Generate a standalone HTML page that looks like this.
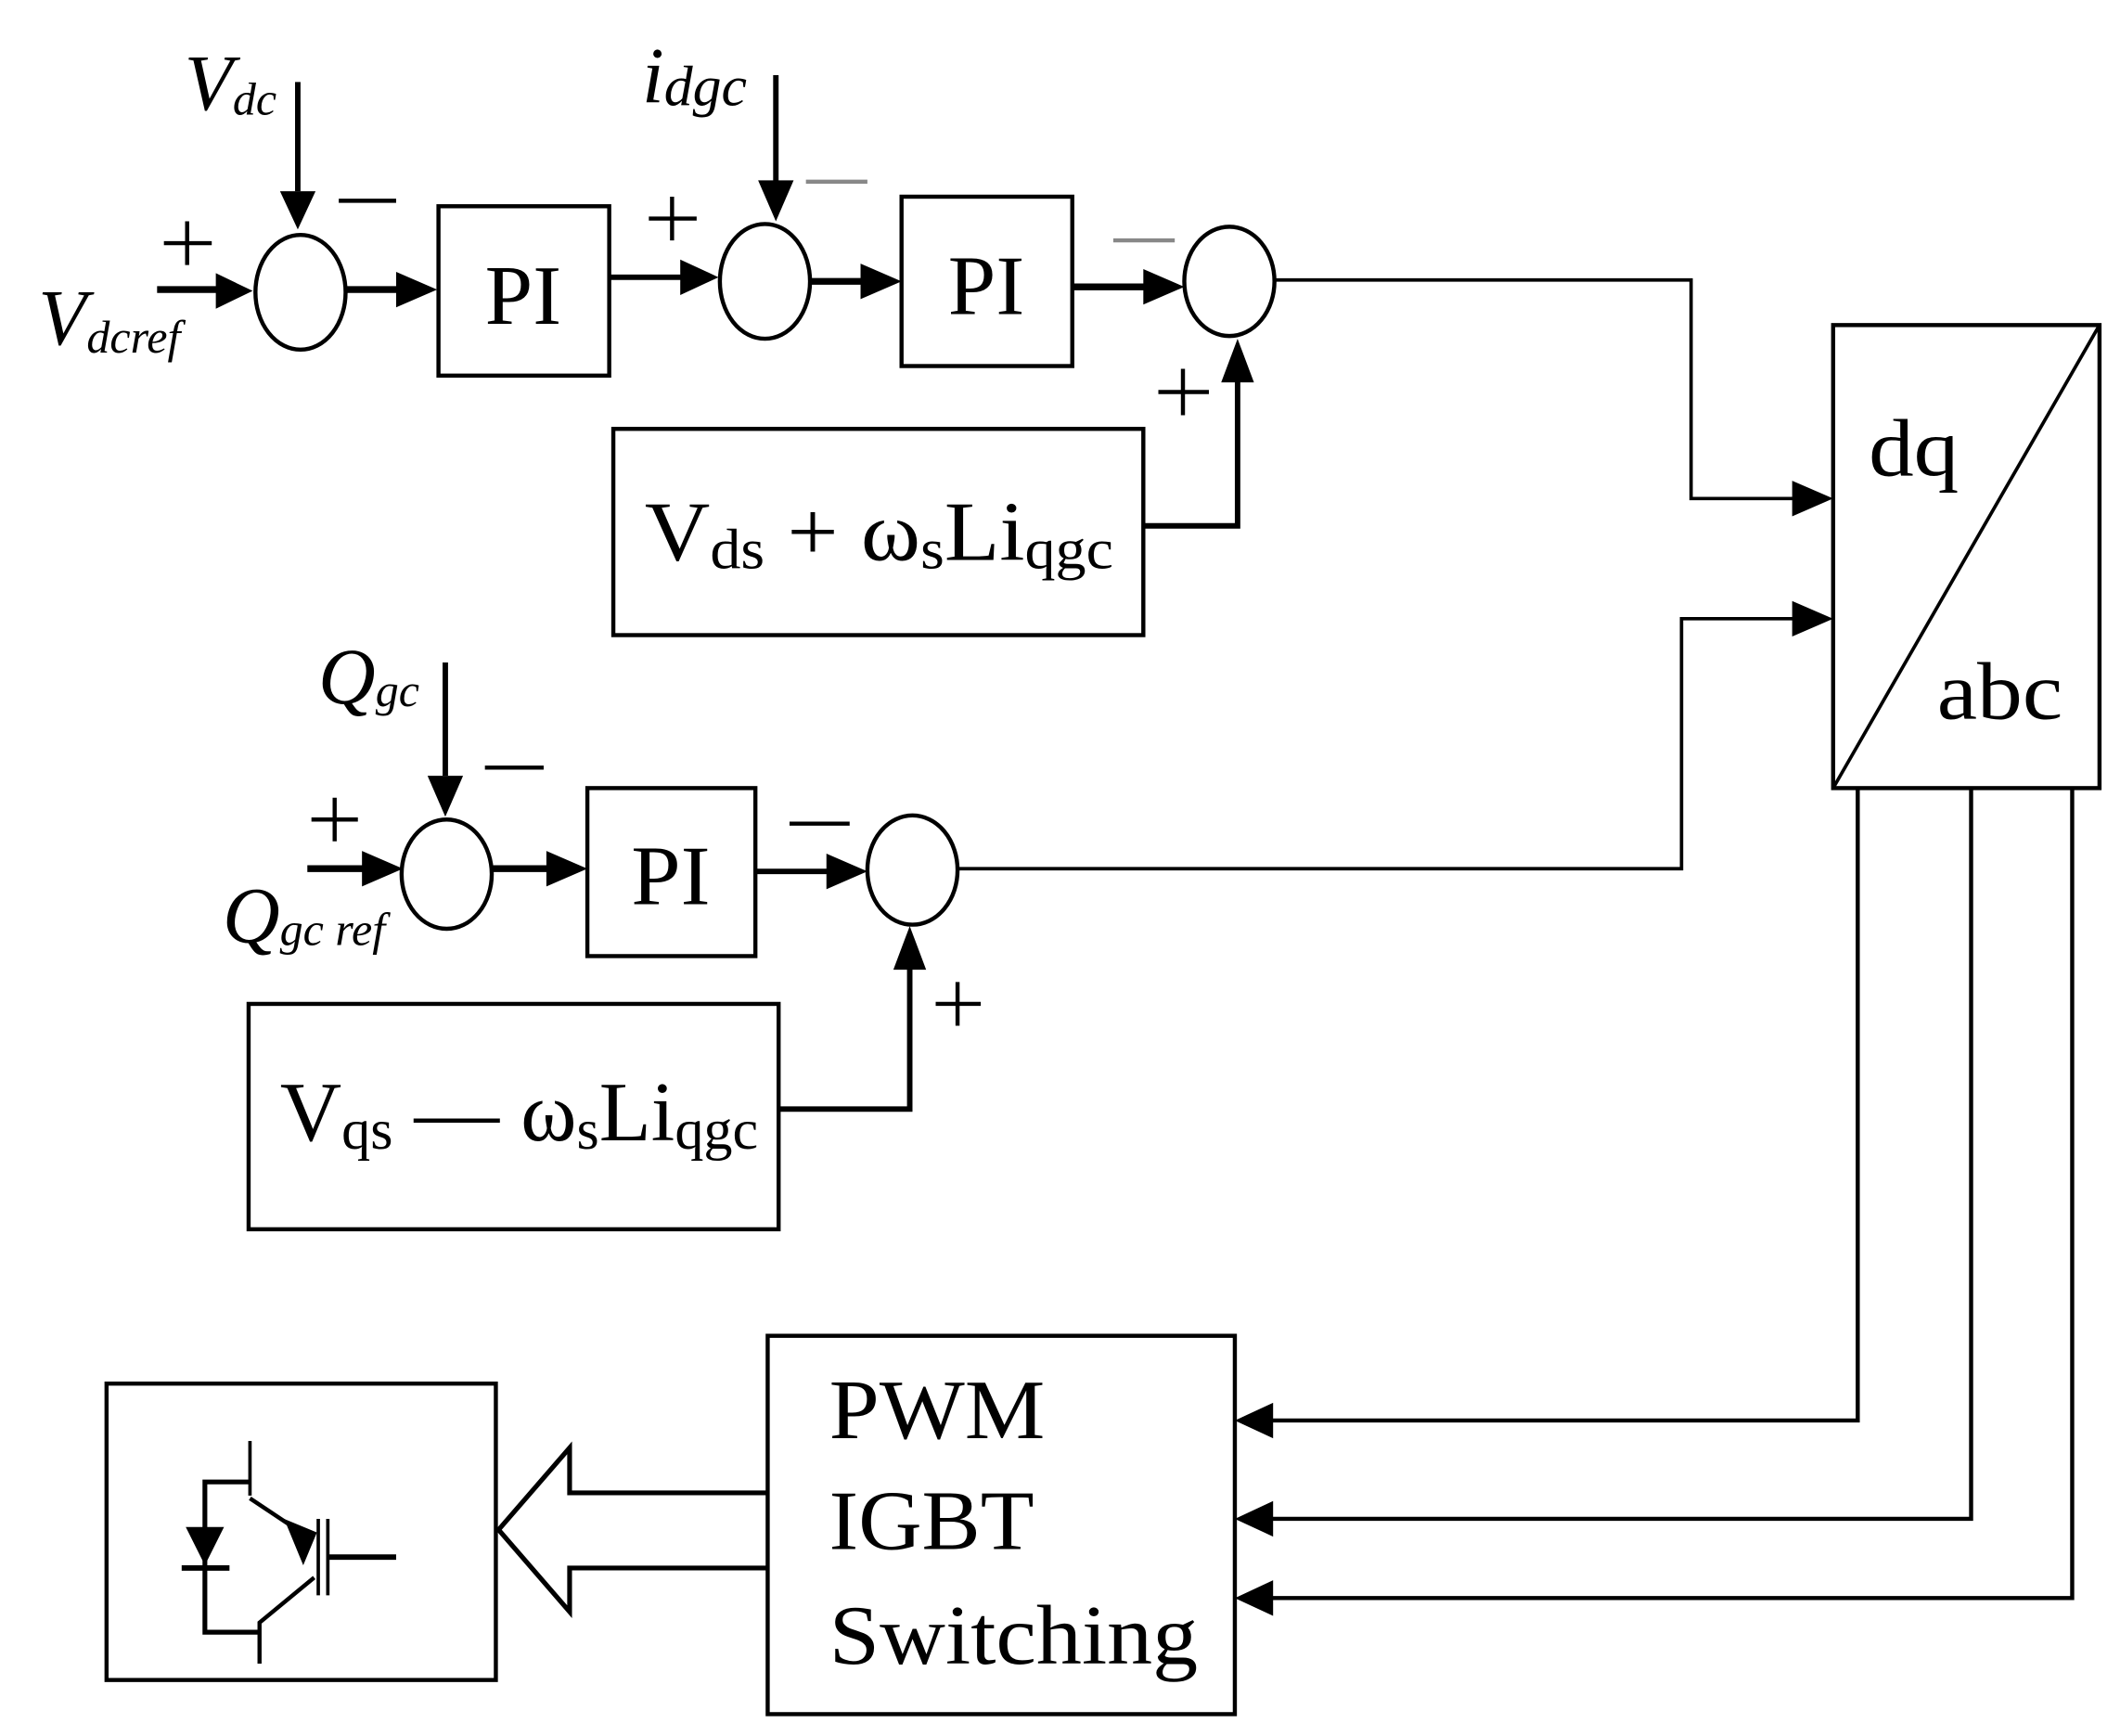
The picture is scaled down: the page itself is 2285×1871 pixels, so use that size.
<!DOCTYPE html>
<html><head><meta charset="utf-8"><style>
html,body{margin:0;padding:0;background:#fff;}
svg{display:block;}
text{font-family:"Liberation Serif",serif;fill:#000;}
</style></head><body>
<svg width="2285" height="1871" viewBox="0 0 1552 1271" preserveAspectRatio="none" xmlns="http://www.w3.org/2000/svg">
<g stroke="#000" fill="none" stroke-width="3">
<ellipse cx="220" cy="214" rx="33" ry="42"/>
<ellipse cx="560" cy="206" rx="33" ry="42"/>
<ellipse cx="900" cy="206" rx="33" ry="40"/>
<ellipse cx="327" cy="640" rx="33" ry="40"/>
<ellipse cx="668" cy="637" rx="33" ry="40"/>
<rect x="321" y="151" width="125" height="124"/>
<rect x="660" y="144" width="125" height="124"/>
<rect x="449" y="314" width="388" height="151"/>
<rect x="430" y="577" width="123" height="123"/>
<rect x="182" y="735" width="388" height="165"/>
<rect x="1342" y="238" width="195" height="339"/>
<line x1="1342" y1="577" x2="1537" y2="238" stroke-width="2.5"/>
<rect x="562" y="978" width="342" height="277"/>
<rect x="78" y="1013" width="285" height="217"/>
<line x1="218" y1="60" x2="218" y2="140" stroke-width="4"/>
<line x1="115" y1="212" x2="160" y2="212" stroke-width="5"/>
<line x1="253" y1="212" x2="295" y2="212" stroke-width="5"/>
<line x1="446" y1="203" x2="500" y2="203" stroke-width="4"/>
<line x1="568" y1="55" x2="568" y2="135" stroke-width="4"/>
<line x1="593" y1="206" x2="635" y2="206" stroke-width="5"/>
<line x1="785" y1="210" x2="840" y2="210" stroke-width="5"/>
<polyline points="837,385 906,385 906,278" stroke-width="4"/>
<polyline points="933,205 1238,205 1238,365 1315,365" stroke-width="2.5"/>
<polyline points="700,636 1231,636 1231,453 1315,453" stroke-width="2.5"/>
<line x1="326" y1="485" x2="326" y2="568" stroke-width="4"/>
<line x1="225" y1="636" x2="268" y2="636" stroke-width="5"/>
<line x1="360" y1="636" x2="403" y2="636" stroke-width="5"/>
<line x1="553" y1="638" x2="608" y2="638" stroke-width="4"/>
<polyline points="570,812 666,812 666,707" stroke-width="4"/>
<polyline points="1360,577 1360,1040 930,1040" stroke-width="3"/>
<polyline points="1443,577 1443,1112 930,1112" stroke-width="3"/>
<polyline points="1517,577 1517,1170 930,1170" stroke-width="3"/>
<polyline points="562,1093 417,1093 417,1060 365,1120 417,1180 417,1148 562,1148" stroke-width="3.5"/>
<polyline points="183,1055 183,1095" stroke-width="2.5"/>
<polyline points="183,1085 150,1085 150,1195 190,1195" stroke-width="3.5"/>
<line x1="133" y1="1148" x2="168" y2="1148" stroke-width="4"/>
<line x1="183" y1="1097" x2="225" y2="1125" stroke-width="3"/>
<line x1="233" y1="1112" x2="233" y2="1168" stroke-width="2.5"/>
<line x1="240" y1="1112" x2="240" y2="1168" stroke-width="2.5"/>
<line x1="240" y1="1140" x2="290" y2="1140" stroke-width="4"/>
<polyline points="230,1155 190,1188 190,1218" stroke-width="3"/>
</g>
<g fill="#000">
<polygon points="205,140 231,140 218,168"/>
<polygon points="158,200 158,226 185,213"/>
<polygon points="290,199 290,225 320,212"/>
<polygon points="498,190 498,216 526,203"/>
<polygon points="555,132 581,132 568,162"/>
<polygon points="630,193 630,219 660,206"/>
<polygon points="837,197 837,223 867,210"/>
<polygon points="894,280 918,280 906,248"/>
<polygon points="1312,352 1312,378 1342,365"/>
<polygon points="1312,440 1312,466 1342,453"/>
<polygon points="313,568 339,568 326,598"/>
<polygon points="265,623 265,649 295,636"/>
<polygon points="400,623 400,649 430,636"/>
<polygon points="605,625 605,651 635,638"/>
<polygon points="654,710 678,710 666,678"/>
<polygon points="932,1027 932,1053 904,1040"/>
<polygon points="932,1099 932,1125 904,1112"/>
<polygon points="932,1157 932,1183 904,1170"/>
<polygon points="136,1118 164,1118 150,1146"/>
<polygon points="208,1112 232,1122 222,1146"/>
</g>
<g stroke-width="3">
<line x1="120" y1="178" x2="155" y2="178" stroke="#000"/><line x1="137" y1="162" x2="137" y2="194" stroke="#000"/>
<line x1="248" y1="147" x2="290" y2="147" stroke="#000"/>
<line x1="475" y1="160" x2="510" y2="160" stroke="#000"/><line x1="492" y1="144" x2="492" y2="176" stroke="#000"/>
<line x1="590" y1="133" x2="635" y2="133" stroke="#888"/>
<line x1="815" y1="176" x2="860" y2="176" stroke="#888"/>
<line x1="848" y1="287" x2="885" y2="287" stroke="#000"/><line x1="866" y1="270" x2="866" y2="304" stroke="#000"/>
<line x1="355" y1="562" x2="398" y2="562" stroke="#000"/>
<line x1="228" y1="600" x2="262" y2="600" stroke="#000"/><line x1="245" y1="584" x2="245" y2="616" stroke="#000"/>
<line x1="578" y1="603" x2="622" y2="603" stroke="#000"/>
<line x1="685" y1="735" x2="718" y2="735" stroke="#000"/><line x1="701" y1="719" x2="701" y2="751" stroke="#000"/>
</g>
<text x="135" y="80" font-size="58" font-style="italic">V<tspan font-size="34" dy="4">dc</tspan></text>
<text x="28" y="252" font-size="58" font-style="italic">V<tspan font-size="34" dy="6">dcref</tspan></text>
<text x="470" y="75" font-size="58" font-style="italic">i<tspan font-size="42" dy="2">dgc</tspan></text>
<text x="233" y="515" font-size="58" font-style="italic">Q<tspan font-size="34" dy="2">gc</tspan></text>
<text x="163" y="690" font-size="58" font-style="italic">Q<tspan font-size="34" dy="2">gc ref</tspan></text>
<text x="355" y="237" font-size="62" textLength="56" lengthAdjust="spacingAndGlyphs">PI</text>
<text x="694" y="230" font-size="62" textLength="56" lengthAdjust="spacingAndGlyphs">PI</text>
<text x="462" y="662" font-size="62" textLength="58" lengthAdjust="spacingAndGlyphs">PI</text>
<text x="472" y="410" font-size="62" textLength="343" lengthAdjust="spacingAndGlyphs">V<tspan font-size="42" dy="6">ds</tspan><tspan dy="-6"> + ω</tspan><tspan font-size="42" dy="6">s</tspan><tspan dy="-6">Li</tspan><tspan font-size="42" dy="6">qgc</tspan></text>
<text x="205" y="835" font-size="62" textLength="350" lengthAdjust="spacingAndGlyphs">V<tspan font-size="42" dy="6">qs</tspan><tspan dy="-6"> — ω</tspan><tspan font-size="42" dy="6">s</tspan><tspan dy="-6">Li</tspan><tspan font-size="42" dy="6">qgc</tspan></text>
<text x="1368" y="348" font-size="60" textLength="66" lengthAdjust="spacingAndGlyphs">dq</text>
<text x="1418" y="526" font-size="60" textLength="92" lengthAdjust="spacingAndGlyphs">abc</text>
<text x="607" y="1053" font-size="62" textLength="158" lengthAdjust="spacingAndGlyphs">PWM</text>
<text x="607" y="1134" font-size="62" textLength="150" lengthAdjust="spacingAndGlyphs">IGBT</text>
<text x="607" y="1218" font-size="62" textLength="270" lengthAdjust="spacingAndGlyphs">Switching</text>
</svg>
</body></html>
